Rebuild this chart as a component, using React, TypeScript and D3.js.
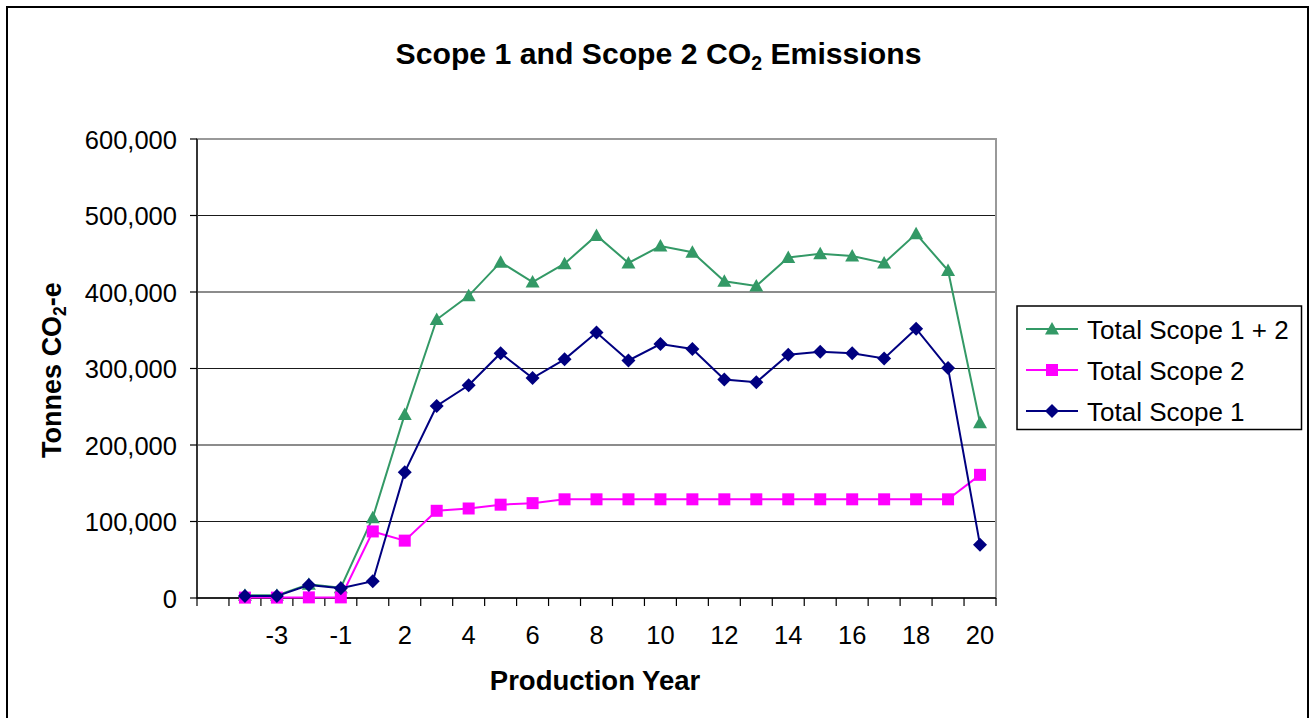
import React from "react";
import * as d3 from "d3";

const categories = ["", "-4", "-3", "-2", "-1", "1", "2", "3", "4", "5", "6", "7", "8", "9", "10", "11", "12", "13", "14", "15", "16", "17", "18", "19", "20"];

const totalScope12 = [null, 3500, 3500, 18000, 13500, 105000, 240000, 364000, 395000, 439000, 413000, 437000, 474000, 438000, 460000, 452000, 414000, 408000, 445000, 450000, 447000, 438000, 476000, 428000, 229000];
const totalScope2 = [null, 500, 500, 800, 800, 87000, 75000, 114000, 117000, 122000, 124000, 129000, 129000, 129000, 129000, 129000, 129000, 129000, 129000, 129000, 129000, 129000, 129000, 129000, 161000];
const totalScope1 = [null, 2500, 2500, 17000, 12700, 22000, 164500, 251000, 278000, 320000, 287500, 312000, 347000, 310500, 332000, 325500, 285500, 282000, 318000, 322000, 320000, 313000, 352000, 300500, 69500];

const yTicks = [0, 100000, 200000, 300000, 400000, 500000, 600000];

const FONT = "'Liberation Sans', Arial, sans-serif";

type Series = { name: string; values: (number | null)[]; color: string; marker: "triangle" | "square" | "diamond" };

const series: Series[] = [
  { name: "Total Scope 1 + 2", values: totalScope12, color: "#339966", marker: "triangle" },
  { name: "Total Scope 2", values: totalScope2, color: "#FF00FF", marker: "square" },
  { name: "Total Scope 1", values: totalScope1, color: "#000080", marker: "diamond" },
];

function Marker({ type, x, y, color }: { type: string; x: number; y: number; color: string }) {
  if (type === "triangle") {
    const pts = `${x},${y - 7} ${x + 7},${y + 5.5} ${x - 7},${y + 5.5}`;
    return <polygon points={pts} fill={color} />;
  }
  if (type === "square") {
    return <rect x={x - 6} y={y - 6} width={12} height={12} fill={color} />;
  }
  const pts = `${x},${y - 7} ${x + 7},${y} ${x},${y + 7} ${x - 7},${y}`;
  return <polygon points={pts} fill={color} />;
}

export default function App() {
  const W = 1310, H = 718;
  const left = 197, right = 996, top = 139, bottom = 598;
  const x = d3.scaleBand<string>().domain(categories).range([left, right]).padding(0);
  const bw = x.bandwidth();
  const cx = (i: number) => (x(categories[i]) as number) + bw / 2;
  const y = d3.scaleLinear().domain([0, 600000]).range([bottom, top]);
  const fmt = d3.format(",");

  const line = d3
    .line<number | null>()
    .defined((d) => d !== null)
    .x((_, i) => cx(i))
    .y((d) => y(d as number));

  const legendY = [329, 370, 411];

  return (
    <svg width={W} height={H} style={{ position: "absolute", left: 0, top: 0, background: "#fff" }} fontFamily={FONT}>
      <rect x={0} y={0} width={W} height={H} fill="#fff" />
      <path d={`M7,${H + 5} V7 H1308 V${H + 5}`} fill="none" stroke="#000" strokeWidth={2} />

      <text x={658.5} y={63.5} textAnchor="middle" fontSize={30.2} fontWeight="bold" fill="#000">
        Scope 1 and Scope 2 CO<tspan fontSize={19.5} dy={6}>2</tspan>
        <tspan dy={-6}> Emissions</tspan>
      </text>

      {yTicks.filter((t) => t > 0).map((t) => (
        <line key={t} x1={left} x2={right} y1={y(t)} y2={y(t)} stroke="#1a1a1a" strokeWidth={1.2} />
      ))}
      <rect x={left} y={top} width={right - left} height={bottom - top} fill="none" stroke="#999" strokeWidth={2} />
      <line x1={left} x2={left} y1={top} y2={bottom} stroke="#000" strokeWidth={1.3} />
      <line x1={left} x2={right} y1={bottom} y2={bottom} stroke="#000" strokeWidth={1.3} />

      {yTicks.map((t) => (
        <g key={t}>
          <line x1={left - 7} x2={left} y1={y(t)} y2={y(t)} stroke="#000" strokeWidth={1.2} />
          <text x={177} y={y(t) + 9.5} textAnchor="end" fontSize={25.5} fill="#000">
            {fmt(t)}
          </text>
        </g>
      ))}

      {d3.range(categories.length + 1).map((i) => {
        const xx = left + i * bw;
        return <line key={i} x1={xx} x2={xx} y1={bottom} y2={bottom + 8} stroke="#000" strokeWidth={1.2} />;
      })}
      {categories.map((c, i) =>
        i % 2 === 0 ? (
          <text key={i} x={cx(i)} y={643.5} textAnchor="middle" fontSize={25.5} fill="#000">
            {c}
          </text>
        ) : null
      )}

      <text x={595} y={690} textAnchor="middle" fontSize={27.5} fontWeight="bold" fill="#000">
        Production Year
      </text>
      <text transform={`translate(61,370) rotate(-90)`} textAnchor="middle" fontSize={27} fontWeight="bold" fill="#000">
        Tonnes CO<tspan fontSize={17.5} dy={5}>2</tspan>
        <tspan dy={-5}>-e</tspan>
      </text>

      {series.map((s) => (
        <g key={s.name}>
          <path d={line(s.values) || ""} fill="none" stroke={s.color} strokeWidth={2} />
          {s.values.map((v, i) =>
            v === null ? null : <Marker key={i} type={s.marker} x={cx(i)} y={y(v)} color={s.color} />
          )}
        </g>
      ))}

      <rect x={1017} y={306} width={284.5} height={123.5} fill="#fff" stroke="#000" strokeWidth={1.5} />
      {series.map((s, i) => (
        <g key={s.name}>
          <line x1={1026} x2={1078} y1={legendY[i]} y2={legendY[i]} stroke={s.color} strokeWidth={2} />
          <Marker type={s.marker} x={1052} y={legendY[i]} color={s.color} />
          <text x={1087} y={legendY[i] + 9.5} fontSize={26} fill="#000">
            {s.name}
          </text>
        </g>
      ))}
    </svg>
  );
}
